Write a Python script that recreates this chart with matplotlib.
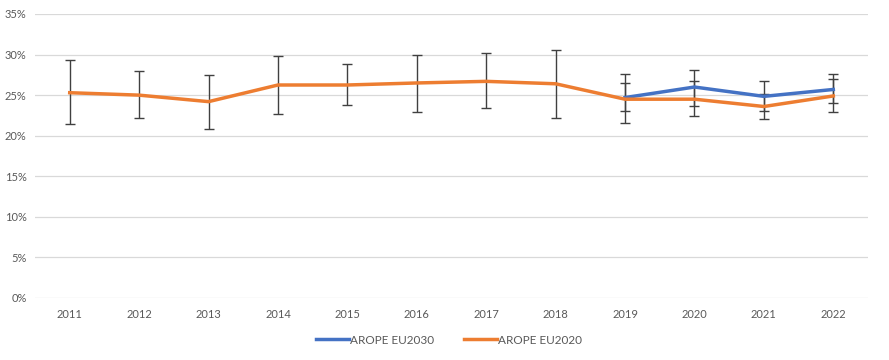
import matplotlib

matplotlib.use("Agg")
import matplotlib.pyplot as plt  # noqa: E402
import numpy as np  # noqa: E402
from matplotlib.ticker import FuncFormatter  # noqa: E402

years = ["2011", "2012", "2013", "2014", "2015", "2016",
         "2017", "2018", "2019", "2020", "2021", "2022"]

# AROPE EU2020 (orange), full period
eu2020 = [25.3, 25.0, 24.2, 26.25, 26.25, 26.5, 26.7, 26.4, 24.5, 24.5, 23.6, 24.9]
eu2020_hi = [29.3, 28.0, 27.5, 29.8, 28.8, 29.9, 30.2, 30.6, 26.5, 26.7, 25.2, 27.0]
eu2020_lo = [21.4, 22.2, 20.8, 22.7, 23.8, 22.9, 23.4, 22.2, 23.0, 22.4, 22.0, 22.9]

# AROPE EU2030 (blue), from 2019
eu2030_years = ["2019", "2020", "2021", "2022"]
eu2030 = [24.7, 26.0, 24.85, 25.7]
eu2030_hi = [27.6, 28.1, 26.7, 27.6]
eu2030_lo = [21.6, 23.7, 23.0, 24.0]

BLUE = "#4472C4"
ORANGE = "#ED7D31"
ERR = "#404040"
TXT = "#595959"

plt.rcParams["font.family"] = ["Lato", "DejaVu Sans"]

fig = plt.figure(figsize=(8.89, 3.6), dpi=100)
ax = fig.add_axes([35 / 889, 1 - 298 / 360, (868 - 35) / 889, (298 - 14) / 360])

x_all = np.arange(len(years))
x_30 = np.array([years.index(y) for y in eu2030_years])

v30 = np.array(eu2030) / 100
v20 = np.array(eu2020) / 100

ax.errorbar(x_30, v30,
            yerr=[v30 - np.array(eu2030_lo) / 100, np.array(eu2030_hi) / 100 - v30],
            fmt="none", ecolor=ERR, elinewidth=1, capsize=3.5, capthick=1, zorder=2)
ax.errorbar(x_all, v20,
            yerr=[v20 - np.array(eu2020_lo) / 100, np.array(eu2020_hi) / 100 - v20],
            fmt="none", ecolor=ERR, elinewidth=1, capsize=3.5, capthick=1, zorder=2)

ax.plot(x_30, v30, color=BLUE, lw=2.5, label="AROPE EU2030", zorder=3,
        solid_joinstyle="round")
ax.plot(x_all, v20, color=ORANGE, lw=2.5, label="AROPE EU2020", zorder=4,
        solid_joinstyle="round")

ax.set_xlim(-0.5, len(years) - 0.5)
ax.set_ylim(0, 0.35)
ax.set_yticks(np.arange(0, 0.351, 0.05))
ax.yaxis.set_major_formatter(FuncFormatter(lambda v, _: f"{v * 100:.0f}%"))
ax.set_xticks(x_all)
ax.set_xticklabels(years)

ax.grid(axis="y", color="#D9D9D9", lw=0.9)
ax.set_axisbelow(True)
for s in ax.spines.values():
    s.set_visible(False)
ax.tick_params(length=0, labelsize=8, colors=TXT)
ax.tick_params(axis="x", pad=8)
ax.tick_params(axis="y", pad=6)

fig.legend(loc="center", bbox_to_anchor=(0.505, 1 - 340 / 360), ncol=2,
           frameon=False, fontsize=8.5, labelcolor=TXT, handlelength=2.8,
           handletextpad=0.1, columnspacing=2.5)

fig.savefig("out.png", dpi=100)
plt.close(fig)
